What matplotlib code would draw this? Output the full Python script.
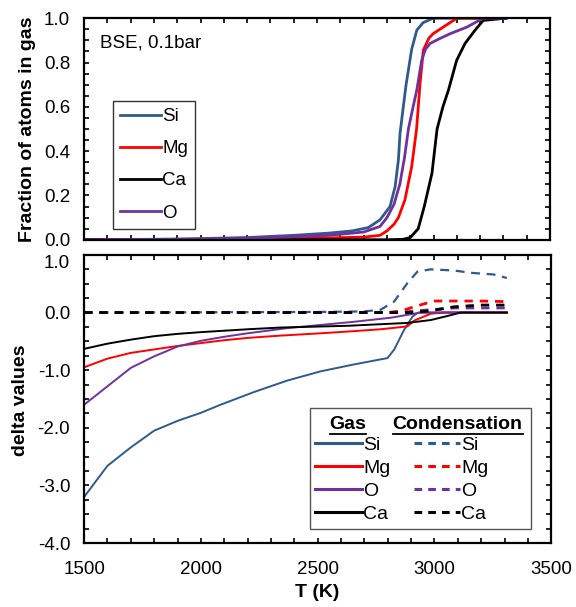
import matplotlib
matplotlib.use('Agg')
import matplotlib.pyplot as plt
from matplotlib.lines import Line2D
from matplotlib.ticker import MultipleLocator

plt.rcParams['font.family'] = ['Liberation Sans', 'DejaVu Sans']
plt.rcParams['axes.unicode_minus'] = False

# colours
c_si = '#2F5A8E'
c_mg = '#FF0000'
c_ca = '#000000'
c_o = '#7030A0'

# --- top panel: fraction of atoms in gas ---
T_si = [1500, 1900, 2200, 2400, 2550, 2650, 2720, 2770, 2813, 2835, 2849, 2856, 2870, 2882, 2906, 2928, 2955, 2998, 3310]
f_si = [0.0, 0.003, 0.01, 0.02, 0.03, 0.04, 0.055, 0.09, 0.15, 0.24, 0.36, 0.48, 0.60, 0.70, 0.86, 0.946, 0.98, 1.0, 1.0]

T_mg = [1500, 2000, 2400, 2700, 2770, 2800, 2830, 2849, 2877, 2906, 2927, 2942, 2956, 2980, 2998, 3056, 3100, 3310]
f_mg = [0.0, 0.002, 0.005, 0.012, 0.02, 0.04, 0.07, 0.1, 0.18, 0.33, 0.5, 0.706, 0.856, 0.91, 0.93, 0.97, 1.0, 1.0]

T_ca = [1500, 2500, 2800, 2869, 2900, 2934, 2960, 2993, 3015, 3040, 3064, 3099, 3135, 3178, 3213, 3310]
f_ca = [0.0, 0.0, 0.0, 0.002, 0.01, 0.05, 0.15, 0.3, 0.5, 0.6, 0.676, 0.81, 0.886, 0.946, 0.99, 1.0]

T_o = [1500, 2000, 2300, 2550, 2700, 2770, 2800, 2830, 2855, 2875, 2892, 2910, 2928, 2949, 2965, 2985, 3030, 3071, 3143, 3213, 3310]
f_o = [0.0, 0.003, 0.01, 0.02, 0.035, 0.06, 0.1, 0.16, 0.25, 0.37, 0.5, 0.59, 0.676, 0.81, 0.86, 0.886, 0.91, 0.93, 0.96, 1.0, 1.0]

# --- bottom panel: delta values, gas ---
T_gas_si = [1500, 1600, 1700, 1800, 1900, 2000, 2084, 2227, 2370, 2513, 2656, 2799, 2828, 2870, 2906, 2930, 3310]
d_gas_si = [-3.2, -2.66, -2.34, -2.05, -1.88, -1.74, -1.60, -1.38, -1.18, -1.02, -0.90, -0.79, -0.64, -0.30, -0.07, 0.0, 0.0]

T_gas_mg = [1500, 1600, 1700, 1800, 1900, 2000, 2100, 2200, 2341, 2513, 2627, 2770, 2884, 2913, 2984, 3040, 3310]
d_gas_mg = [-0.95, -0.80, -0.70, -0.64, -0.58, -0.53, -0.48, -0.44, -0.40, -0.36, -0.33, -0.29, -0.24, -0.14, -0.02, 0.0, 0.0]

T_gas_o = [1500, 1600, 1700, 1800, 1900, 2000, 2100, 2200, 2370, 2656, 2813, 2884, 2940, 3310]
d_gas_o = [-1.6, -1.28, -0.96, -0.76, -0.59, -0.49, -0.42, -0.36, -0.27, -0.16, -0.09, -0.04, 0.0, 0.0]

T_gas_ca = [1500, 1600, 1700, 1800, 1900, 2000, 2200, 2341, 2627, 2884, 2984, 3055, 3112, 3310]
d_gas_ca = [-0.63, -0.54, -0.47, -0.41, -0.37, -0.34, -0.29, -0.26, -0.23, -0.18, -0.13, -0.06, 0.0, 0.0]

# --- bottom panel: delta values, condensation ---
T_con_si = [1500, 2500, 2700, 2770, 2827, 2884, 2927, 2984, 3084, 3155, 3255, 3310]
d_con_si = [0.0, 0.01, 0.02, 0.05, 0.19, 0.51, 0.71, 0.75, 0.73, 0.69, 0.66, 0.6]

T_con_mg = [1500, 2800, 2860, 2913, 2955, 2998, 3100, 3200, 3310]
d_con_mg = [0.0, 0.0, 0.03, 0.1, 0.15, 0.2, 0.2, 0.2, 0.19]

T_con_o = [1500, 2850, 2920, 2984, 3084, 3200, 3310]
d_con_o = [0.0, 0.0, 0.03, 0.05, 0.08, 0.08, 0.08]

T_con_ca = [1500, 2900, 2984, 3040, 3084, 3198, 3310]
d_con_ca = [0.0, 0.0, 0.03, 0.07, 0.1, 0.13, 0.13]

fig = plt.figure(figsize=(5.76, 6.07), dpi=100)
ax1 = fig.add_axes([0.146, 0.605, 0.809, 0.365])
ax2 = fig.add_axes([0.146, 0.1054, 0.811, 0.4746])

ax1.plot(T_si, f_si, color=c_si, lw=2.0, label='Si')
ax1.plot(T_mg, f_mg, color=c_mg, lw=2.0, label='Mg')
ax1.plot(T_ca, f_ca, color=c_ca, lw=2.0, label='Ca')
ax1.plot(T_o, f_o, color=c_o, lw=2.0, label='O')

ax1.set_xlim(1500, 3500)
ax1.set_ylim(0, 1.0)
ax1.yaxis.set_major_locator(MultipleLocator(0.2))
ax1.yaxis.set_minor_locator(MultipleLocator(0.05))
ax1.xaxis.set_major_locator(MultipleLocator(500))
ax1.xaxis.set_minor_locator(MultipleLocator(100))
ax1.yaxis.set_major_formatter('{x:.1f}')
ax1.tick_params(axis='x', labelbottom=False)
ax1.set_ylabel('Fraction of atoms in gas', fontsize=14, fontweight='bold')
ax1.yaxis.set_label_coords(-0.104, 0.5)
ax1.text(0.034, 0.887, 'BSE, 0.1bar', transform=ax1.transAxes, fontsize=13.5, va='center')

leg1 = ax1.legend(loc='lower left', bbox_to_anchor=(0.062, 0.05), fontsize=13.5,
                  handlelength=2.2, handletextpad=0.05, labelspacing=0.8,
                  fancybox=False, edgecolor='#333333', framealpha=1,
                  borderpad=0.38, borderaxespad=0)
leg1.get_frame().set_linewidth(1.0)

ax2.plot(T_gas_si, d_gas_si, color=c_si, lw=1.4)
ax2.plot(T_gas_mg, d_gas_mg, color=c_mg, lw=1.4)
ax2.plot(T_gas_o, d_gas_o, color=c_o, lw=1.4)
ax2.plot(T_gas_ca, d_gas_ca, color=c_ca, lw=1.4)
ax2.plot(T_con_si, d_con_si, color=c_si, lw=1.6, ls=(0, (4, 3)))
ax2.plot(T_con_mg, d_con_mg, color=c_mg, lw=2.0, ls=(0, (3, 2.5)))
ax2.plot(T_con_o, d_con_o, color=c_o, lw=2.0, ls=(0, (3, 2.5)))
ax2.plot(T_con_ca, d_con_ca, color=c_ca, lw=2.0, ls=(0, (3, 2.5)))

ax2.set_xlim(1500, 3500)
ax2.set_ylim(-4.0, 1.0)
ax2.set_yticks([-4.0, -3.0, -2.0, -1.0, 0.0, 1.0])
ax2.yaxis.set_minor_locator(MultipleLocator(0.25))
ax2.xaxis.set_major_locator(MultipleLocator(500))
ax2.xaxis.set_minor_locator(MultipleLocator(100))
ax2.yaxis.set_major_formatter('{x:.1f}')
ax2.set_ylabel('delta values', fontsize=14, fontweight='bold')
ax2.yaxis.set_label_coords(-0.118, 0.497)
ax2.set_xlabel('T (K)', fontsize=14, fontweight='bold', labelpad=4.5)

for ax in (ax1, ax2):
    for s in ax.spines.values():
        s.set_linewidth(1.6)
    ax.tick_params(which='both', direction='in', top=True, right=True,
                   length=3.5, width=1.2, labelsize=13.5)
    ax.tick_params(axis='y', pad=10)
    ax.tick_params(axis='x', pad=13)

# top label of the lower panel sits just under the axis top
ax2.get_yticklabels()[-1].set_va('top')

# legend for bottom panel: gas column then condensation column
names = ['Si', 'Mg', 'O', 'Ca']
cols = [c_si, c_mg, c_o, c_ca]
handles = [Line2D([], [], color=c, lw=2.2) for c in cols] + \
          [Line2D([], [], color=c, lw=2.2, ls=(0, (2.5, 2))) for c in cols]
leg2 = ax2.legend(handles, names + names, ncol=2, loc='lower right',
                  bbox_to_anchor=(0.957, 0.05), fontsize=14,
                  title='Gas        Condensation', title_fontproperties={'size': 14, 'weight': 'bold'},
                  alignment='left',
                  handlelength=2.4, handletextpad=0.05, labelspacing=0.28,
                  columnspacing=1.2, fancybox=False, edgecolor='#555555',
                  framealpha=1, borderpad=0.3, borderaxespad=0)
leg2.get_frame().set_linewidth(1.0)
leg2.get_title().set_alpha(0)

fig.canvas.draw()
bb = leg2.get_window_extent()
inv = fig.transFigure.inverted()
for txt, dx in (('Gas', 20), ('Condensation', 83)):
    x, y = inv.transform((bb.x0 + dx, bb.y1 - 17))
    t = fig.text(x, y, txt, fontsize=14, fontweight='bold', va='center', ha='left')
    fig.canvas.draw()
    tb = t.get_window_extent()
    (ux0, uy), (ux1, _) = inv.transform([(tb.x0, tb.y0 - 0.5), (tb.x1, tb.y0 - 0.5)])
    fig.add_artist(Line2D([ux0, ux1], [uy, uy], color='black', lw=1.3,
                          transform=fig.transFigure))

fig.savefig('out.png', dpi=100)
